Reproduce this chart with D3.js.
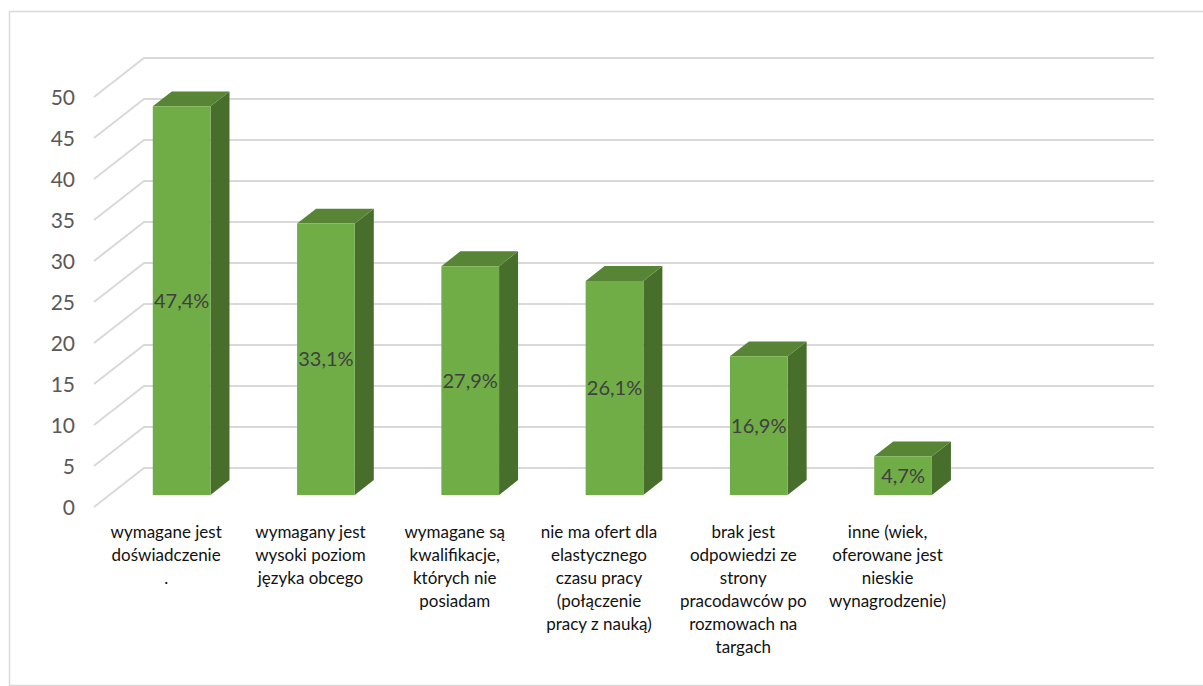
<!DOCTYPE html>
<html>
<head>
<meta charset="utf-8">
<script src="https://cdn.jsdelivr.net/npm/d3@7"></script>
<style>
  body { margin: 0; background: #fff; }
  svg { display: block; font-family: Lato, "Open Sans", sans-serif; }
</style>
</head>
<body>
<svg width="1203" height="686"></svg>
<script>
// chart data
var categories = [
  ["wymagane jest", "doświadczenie", "."],
  ["wymagany jest", "wysoki poziom", "języka obcego"],
  ["wymagane są", "kwalifikacje,", "których nie", "posiadam"],
  ["nie ma ofert dla", "elastycznego", "czasu pracy", "(połączenie", "pracy z nauką)"],
  ["brak jest", "odpowiedzi ze", "strony", "pracodawców po", "rozmowach na", "targach"],
  ["inne (wiek,", "oferowane jest", "nieskie", "wynagrodzenie)"],
  []
];
var values = [47.4, 33.1, 27.9, 26.1, 16.9, 4.7];
var valueLabels = ["47,4%", "33,1%", "27,9%", "26,1%", "16,9%", "4,7%"];
var yTicks = [0, 5, 10, 15, 20, 25, 30, 35, 40, 45, 50];

var svg = d3.select("svg");

// outer frame (right/bottom edges fall off the page)
svg.append("rect")
  .attr("x", 9.5).attr("y", 11.5)
  .attr("width", 1210).attr("height", 674)
  .attr("fill", "none").attr("stroke", "#d9d9d9").attr("stroke-width", 1.5);

// pseudo 3d: depth runs from z=0 (front) to z=1 (back wall)
var depthX = 50, depthY = -39;
function proj(x, y, z) { return [x + z * depthX, y + z * depthY]; }

var x = d3.scaleBand()
  .domain(d3.range(categories.length))
  .range([94, 1104])
  .paddingInner(0.6)
  .paddingOuter(0.3);

var y = d3.scaleLinear().domain([0, 50]).range([507, 97]);

var zFront = 0.31, zBack = 0.69;

// gridlines: floor/side diagonal + back wall line
var grid = svg.append("g").attr("stroke", "#d9d9d9").attr("stroke-width", 2).attr("fill", "none");
yTicks.forEach(function(t) {
  var a = proj(94, y(t), 0), b = proj(94, y(t), 1);
  grid.append("path")
    .attr("d", "M" + a + "L" + b + "L" + [1154, b[1]]);
});

// y axis labels
svg.append("g").selectAll("text")
  .data(yTicks)
  .enter().append("text")
  .attr("x", 75)
  .attr("y", function(d) { return y(d); })
  .attr("dy", "0.36em")
  .attr("text-anchor", "end")
  .attr("font-size", 21)
  .attr("fill", "#595959")
  .text(function(d) { return d; });

// bars
var bars = svg.append("g").selectAll("g.bar")
  .data(values)
  .enter().append("g").attr("class", "bar");

function poly(pts) { return "M" + pts.join("L") + "Z"; }

bars.each(function(d, i) {
  var g = d3.select(this);
  var x0 = x(i), x1 = x(i) + x.bandwidth();
  var yTop = y(d), yBase = y(0);
  // side
  g.append("path")
    .attr("fill", "#476f2b")
    .attr("d", poly([proj(x1, yBase, zFront), proj(x1, yBase, zBack), proj(x1, yTop, zBack), proj(x1, yTop, zFront)]));
  // top
  g.append("path")
    .attr("fill", "#588535")
    .attr("d", poly([proj(x0, yTop, zFront), proj(x1, yTop, zFront), proj(x1, yTop, zBack), proj(x0, yTop, zBack)]));
  // front
  g.append("path")
    .attr("fill", "#70ad47")
    .attr("d", poly([proj(x0, yBase, zFront), proj(x1, yBase, zFront), proj(x1, yTop, zFront), proj(x0, yTop, zFront)]));
  // value label
  var c = proj((x0 + x1) / 2, (yTop + yBase) / 2, zFront);
  g.append("text")
    .attr("x", c[0])
    .attr("y", c[1])
    .attr("dy", "0.36em")
    .attr("text-anchor", "middle")
    .attr("font-size", 20)
    .attr("fill", "#404040")
    .text(valueLabels[i]);
});

// category labels
var cat = svg.append("g").selectAll("text")
  .data(categories)
  .enter().append("text")
  .attr("text-anchor", "middle")
  .attr("font-size", 17)
  .attr("fill", "#111")
  .attr("transform", function(d, i) {
    return "translate(" + (x(i) + x.bandwidth() / 2) + ",538)";
  });

cat.selectAll("tspan")
  .data(function(d) { return d; })
  .enter().append("tspan")
  .attr("x", 0)
  .attr("y", function(d, j) { return j * 23; })
  .text(function(d) { return d; });
</script>
</body>
</html>
